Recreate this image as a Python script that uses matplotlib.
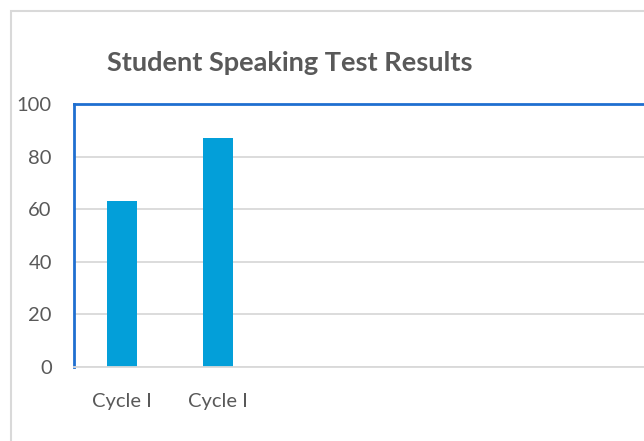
import matplotlib.pyplot as plt
from matplotlib.patches import Rectangle

categories = ["Cycle I", "Cycle I"]
scores = [63, 87]
yticks = [0, 20, 40, 60, 80, 100]

W, H = 644, 441
fig = plt.figure(figsize=(W / 100, H / 100), dpi=100)
plt.rcParams['font.family'] = ['Lato', 'DejaVu Sans']

# outer chart frame (runs off the right and bottom edges)
fig.patches.append(Rectangle((11 / W, -0.1), 1.2, 1 - 11 / H + 0.1,
                             transform=fig.transFigure, fill=False,
                             edgecolor='#d9d9d9', linewidth=1.5))

left, bottom, top = 74, 367, 104
right = 74 + 96 * 7
ax = fig.add_axes([left / W, (H - bottom) / H, (right - left) / W, (bottom - top) / H])

ax.bar(range(len(scores)), scores, width=0.31, color='#039fd9')
ax.set_xlim(-0.5, 6.5)
ax.set_ylim(0, 100)
ax.set_yticks(yticks)
ax.set_xticks(range(len(categories)))
ax.set_xticklabels(categories)
ax.tick_params(length=0, labelsize=14.5, colors='#595959')
ax.tick_params(axis='x', pad=19)
ax.tick_params(axis='y', pad=16)
ax.grid(axis='y', color='#d9d9d9', linewidth=1.3)
ax.set_axisbelow(True)

for s in ['left', 'top']:
    ax.spines[s].set_color('#1f6fd0')
    ax.spines[s].set_linewidth(2)
ax.spines['right'].set_visible(False)
ax.spines['bottom'].set_color('#d9d9d9')
ax.spines['bottom'].set_linewidth(1.3)

fig.text(107 / W, 1 - 63 / H, "Student Speaking Test Results", fontsize=19.5,
         fontweight='bold', color='#595959', va='center', ha='left')

fig.savefig('out.png', dpi=100)
